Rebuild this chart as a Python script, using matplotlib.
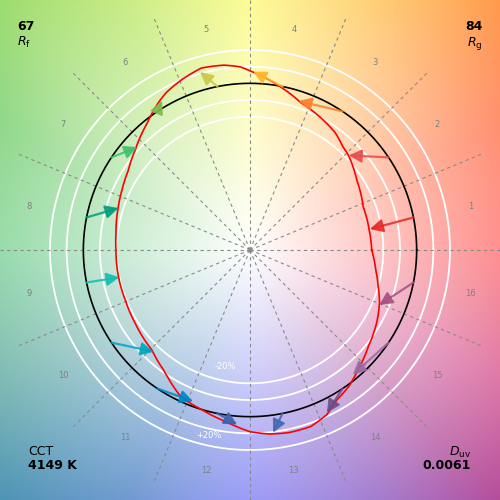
import numpy as np
import matplotlib
matplotlib.use("Agg")
import matplotlib.pyplot as plt

# ---------------- data ----------------
bin_labels = [str(i) for i in range(1, 17)]
bin_colors = ["#e62828", "#e74b4b", "#fb812e", "#ffb529", "#cbca46", "#7eb94c",
              "#41c06d", "#009c7c", "#16bcb0", "#00a4bf", "#0085c3", "#3b62aa",
              "#4568ae", "#6a4e85", "#9d69a1", "#a74f81"]
# reference (start) hue angles, deg, and radius (normalised reference circle)
ref_angle = [11.25, 33.75, 56.25, 78.75, 101.25, 123.75, 146.25, 168.75,
             191.25, 213.75, 236.25, 258.75, 281.25, 303.75, 326.25, 348.75]
ref_radius = [1.0] * 16
# test (end) hue angle and relative chroma per bin
test_angle = [9.9, 43.8, 72.0, 89.0, 105.7, 120.5, 137.6, 162.3,
              191.8, 226.6, 249.4, 265.8, 277.2, 295.3, 309.5, 337.0]
test_radius = [0.73, 0.82, 0.94, 1.07, 1.11, 1.04, 0.915, 0.828,
               0.80, 0.84, 0.97, 1.05, 1.105, 1.08, 0.97, 0.843]
# test gamut outline (red)
gamut_angle = [0, 9.5, 21, 33, 44, 48, 54, 58, 71, 80, 90, 93, 98, 105, 112,
               118, 122, 129, 139, 147, 155, 162.5, 173, 180, 191.5, 202, 212.5,
               225.5, 234, 237, 245, 253, 262, 270, 276, 282, 289, 295, 300, 306,
               312, 321, 330, 338, 344, 351]
gamut_radius = [0.73, 0.725, 0.727, 0.765, 0.82, 0.833, 0.87, 0.885, 0.935, 1.00,
                1.075, 1.10, 1.12, 1.13, 1.10, 1.07, 1.04, 0.98, 0.913, 0.872,
                0.848, 0.83, 0.81, 0.804, 0.805, 0.806, 0.817, 0.84, 0.886, 0.908,
                0.975, 1.00, 1.04, 1.09, 1.11, 1.12, 1.12, 1.09, 1.04, 1.01,
                0.968, 0.915, 0.877, 0.838, 0.80, 0.764]
ring_levels = [0.8, 0.9, 1.1, 1.2]
ring_text = ["-20%", "+20%"]
Rf, Rg, CCT, Duv = "67", "84", "4149 K", "0.0061"

# ---------------- background ----------------
# border colour samples (pixel position on 500px canvas, colour)
border = [((0, 0), "#9ddc6e"), ((125, 0), "#c8ec85"), ((250, 0), "#fdfc96"),
          ((375, 0), "#ffcf78"), ((500, 0), "#ff9a4c"), ((500, 125), "#ff9070"),
          ((500, 250), "#ff9090"), ((500, 375), "#e07aa8"), ((500, 500), "#b44e9c"),
          ((375, 500), "#a47ed0"), ((250, 500), "#9c9cf8"), ((125, 500), "#6f9ad0"),
          ((0, 500), "#4e94b4"), ((0, 375), "#80bcb4"), ((0, 250), "#98dcac"),
          ((0, 125), "#90d88a")]
P = 1.0
Rc = np.hypot(250, 250)
angs, cols = [], []
for (px, py), c in border:
    dx, dy = px - 250, 250 - py
    a = np.degrees(np.arctan2(dy, dx)) % 360
    f = (np.hypot(dx, dy) / Rc) ** P
    rgb = np.array(matplotlib.colors.to_rgb(c))
    full = 1 - (1 - rgb) / f
    angs.append(a)
    cols.append(full)
order = np.argsort(angs)
angs = np.array(angs)[order]
cols = np.array(cols)[order]
angs_p = np.concatenate([angs - 360, angs, angs + 360])
cols_p = np.concatenate([cols, cols, cols])

N = 500
g = np.linspace(-1.5, 1.5, N)
X, Y = np.meshgrid(g, g)
A = np.degrees(np.arctan2(Y, X)) % 360
F = (np.hypot(X, Y) / (1.5 * np.sqrt(2))) ** P
img = np.zeros((N, N, 3))
for ch in range(3):
    C = np.interp(A, angs_p, cols_p[:, ch])
    img[..., ch] = 1 - (1 - C) * F
img = np.clip(img, 0, 1)

fig = plt.figure(figsize=(5, 5), dpi=100)
axb = fig.add_axes([0, 0, 1, 1])
axb.imshow(img, origin="lower", extent=[-1.5, 1.5, -1.5, 1.5], interpolation="bilinear")
axb.set_xlim(-1.5, 1.5)
axb.set_ylim(-1.5, 1.5)
axb.axis("off")

ax = fig.add_axes([0, 0, 1, 1], projection="polar")
ax.patch.set_alpha(0)
ax.set_rlim(0, 1.5)
ax.axis("off")

th = np.linspace(0, 2 * np.pi, 721)
for r in ring_levels:
    ax.plot(th, np.full_like(th, r), color="white", lw=1.3, zorder=2)
for k in range(16):
    a = np.radians(k * 22.5)
    ax.plot([a, a], [0, 1.5], color="#8a8a8a", lw=0.8, ls=(0, (3, 3)), zorder=3)
    ax.text(np.radians(ref_angle[k]), 1.35, bin_labels[k], ha="center", va="center",
            fontsize=6, color="#808080", zorder=3)
ax.plot(th, np.ones_like(th), color="black", lw=1.2, zorder=4)

ga = np.radians(gamut_angle + [gamut_angle[0] + 360])
gr = gamut_radius + [gamut_radius[0]]
red_line, = ax.plot(ga, gr, color="#ff0000", lw=1.2, zorder=5)
red_line.get_path()._interpolation_steps = 40

for k in range(16):
    ax.annotate("", xy=(np.radians(test_angle[k]), test_radius[k]),
                xytext=(np.radians(ref_angle[k]), ref_radius[k]),
                arrowprops=dict(arrowstyle="-|>,head_length=0.55,head_width=0.28",
                                color=bin_colors[k], lw=1.6, mutation_scale=14,
                                shrinkA=0, shrinkB=0, alpha=0.85),
                zorder=6)

axb.text(-0.15, -0.70, ring_text[0], color="white", fontsize=6, ha="center", va="center")
axb.text(-0.245, -1.11, ring_text[1], color="white", fontsize=6, ha="center", va="center")

fig.text(17 / 500, 1 - 20 / 500, Rf, fontsize=9, fontweight="bold", ha="left", va="top")
fig.text(17 / 500, 1 - 35 / 500, r"$R_\mathrm{f}$", fontsize=9, ha="left", va="top")
fig.text(483 / 500, 1 - 20 / 500, Rg, fontsize=9, fontweight="bold", ha="right", va="top")
fig.text(483 / 500, 1 - 35 / 500, r"$R_\mathrm{g}$", fontsize=9, ha="right", va="top")
fig.text(28 / 500, 1 - 445 / 500, "CCT", fontsize=9, ha="left", va="top")
fig.text(28 / 500, 1 - 459 / 500, CCT, fontsize=9, fontweight="bold", ha="left", va="top")
fig.text(471 / 500, 1 - 445 / 500, r"$D_\mathrm{uv}$", fontsize=9, ha="right", va="top")
fig.text(471 / 500, 1 - 459 / 500, Duv, fontsize=9, fontweight="bold", ha="right", va="top")

fig.savefig("out.png", dpi=100)
